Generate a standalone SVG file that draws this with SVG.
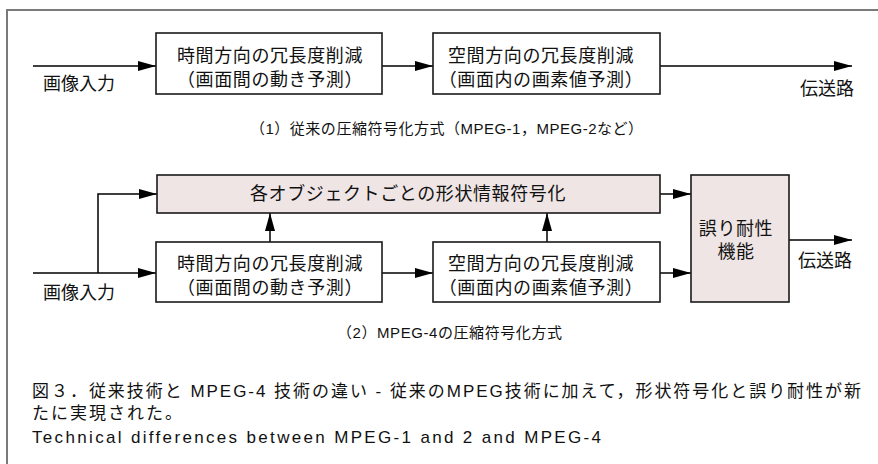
<svg xmlns="http://www.w3.org/2000/svg" width="878" height="464" viewBox="0 0 878 464">
<defs>
<style>
text{font-family:"Liberation Sans","Noto Sans CJK JP",sans-serif;fill:#111;}
.bt{font-size:18px;letter-spacing:0.6px;text-anchor:middle;}
.lb{font-size:18px;}
.cap{font-size:15px;text-anchor:middle;}
.fig{font-size:17px;letter-spacing:2px;}
.box{fill:#fff;stroke:#1a1a1a;stroke-width:1.6;}
.pk{fill:#efe5e5;stroke:#1a1a1a;stroke-width:1.6;}
.c{fill:none;stroke:#000;stroke-width:1.5;}
.c.a{marker-end:url(#ah);}
</style>
<marker id="ah" markerUnits="userSpaceOnUse" markerWidth="18" markerHeight="10" refX="18" refY="5" orient="auto">
<path d="M0,0 L18,5 L0,10 z" fill="#000"/>
</marker>
</defs>
<rect width="878" height="464" fill="#fff"/>
<path d="M7,464 V10 H878" fill="none" stroke="#7a7a7a" stroke-width="2"/>

<g id="connectors">
<path class="c a" d="M33,66 H156"/>
<path class="c a" d="M382,66 H433"/>
<path class="c a" d="M660,66 H852"/>
<path class="c a" d="M33,273 H156"/>
<path class="c a" d="M98,273 V194 H157"/>
<path class="c a" d="M382,273 H433"/>
<path class="c a" d="M660,273 H691"/>
<path class="c a" d="M660,194 H691"/>
<path class="c a" d="M270,242 V213"/>
<path class="c a" d="M547,242 V213"/>
<path class="c a" d="M789,240 H852"/>
</g>

<g id="label-input1"><text class="lb" x="43" y="90">画像入力</text></g>
<g id="node-time1">
<rect class="box" x="156" y="33" width="226" height="61"/>
<text class="bt" x="270" y="62">時間方向の冗長度削減</text>
<text class="bt" x="270" y="86">（画面間の動き予測）</text>
</g>
<g id="node-space1">
<rect class="box" x="433" y="33" width="227" height="61"/>
<text class="bt" x="541" y="62">空間方向の冗長度削減</text>
<text class="bt" x="541" y="86">（画面内の画素値予測）</text>
</g>
<g id="label-out1"><text class="lb" x="800" y="95">伝送路</text></g>
<g id="caption1"><text class="cap" x="446.5" y="134" textLength="393" lengthAdjust="spacing">（1）従来の圧縮符号化方式（MPEG-1，MPEG-2など）</text></g>

<g id="node-shape">
<rect class="pk" x="157" y="175" width="503" height="38"/>
<text class="bt" x="408" y="200">各オブジェクトごとの形状情報符号化</text>
</g>
<g id="label-input2"><text class="lb" x="43" y="299">画像入力</text></g>
<g id="node-time2">
<rect class="box" x="156" y="242" width="226" height="60"/>
<text class="bt" x="270" y="270">時間方向の冗長度削減</text>
<text class="bt" x="270" y="294">（画面間の動き予測）</text>
</g>
<g id="node-space2">
<rect class="box" x="433" y="242" width="227" height="60"/>
<text class="bt" x="541" y="270">空間方向の冗長度削減</text>
<text class="bt" x="541" y="294">（画面内の画素値予測）</text>
</g>
<g id="node-error">
<rect class="pk" x="691" y="175" width="98" height="127"/>
<text class="bt" x="736" y="235">誤り耐性</text>
<text class="bt" x="736" y="258">機能</text>
</g>
<g id="label-out2"><text class="lb" x="798" y="267">伝送路</text></g>
<g id="caption2"><text class="cap" x="449.5" y="338" textLength="225" lengthAdjust="spacing">（2）MPEG-4の圧縮符号化方式</text></g>

<g id="figcaption">
<text class="fig" x="32" y="397" textLength="831" lengthAdjust="spacing">図３．従来技術と MPEG-4 技術の違い - 従来のMPEG技術に加えて，形状符号化と誤り耐性が新</text>
<text class="fig" x="32" y="419">たに実現された。</text>
<text class="fig" x="32" y="443" textLength="571" lengthAdjust="spacing">Technical differences between MPEG-1 and 2 and MPEG-4</text>
</g>
</svg>
